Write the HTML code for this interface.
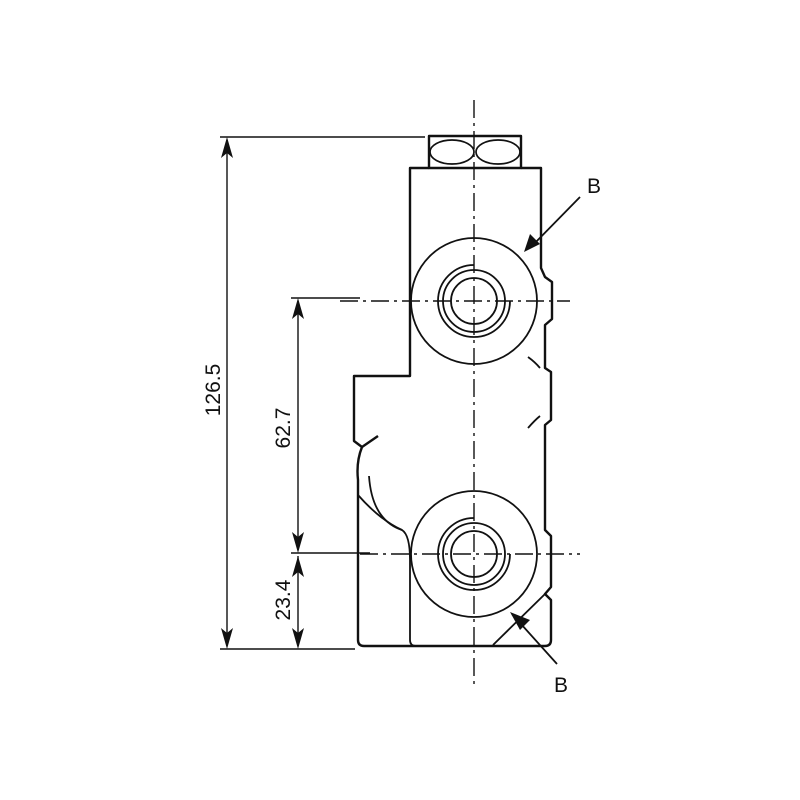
<!DOCTYPE html>
<html><head><style>body{margin:0;background:#fff}svg{display:block}</style></head><body>
<svg width="800" height="800" viewBox="0 0 800 800" xmlns="http://www.w3.org/2000/svg" font-family="Liberation Sans, sans-serif">
<g fill="none" stroke="#111" stroke-width="2.4" stroke-linejoin="round">
<!-- nut -->
<rect x="429" y="136" width="92" height="32"/>
<ellipse cx="452" cy="152" rx="22" ry="12" stroke-width="1.7"/>
<ellipse cx="498" cy="152" rx="22" ry="12" stroke-width="1.7"/>
<!-- body outline -->
<path d="M429 168 H410 V376 H354 V441 L362 447 Q356 462 358 480 V640 Q358 646 364 646 H545 Q551 646 551 640 V600 L545 594 L551 587 V536 L545 530 V425 L551 420 V372 L545 368 V325 L552 319 V282 L545 277 L541 268 V168 H521"/>
<path d="M362 447 L378 436" />
</g>
<g fill="none" stroke="#111" stroke-width="1.8">
<!-- top port -->
<circle cx="474" cy="301" r="63"/>
<circle cx="474" cy="301" r="23"/>
<circle cx="474" cy="301" r="31"/>
<path d="M474 265 A36 36 0 1 0 510 301"/>
<!-- bottom port -->
<circle cx="474" cy="554" r="63"/>
<circle cx="474" cy="554" r="23"/>
<circle cx="474" cy="554" r="31"/>
<path d="M474 518 A36 36 0 1 0 510 554"/>
<!-- misc body lines -->
<path d="M528 357 Q535 362 540 368"/>
<path d="M528 428 Q535 420 540 416"/>
<path d="M369 476 Q372 520 402 530 Q410 535 410 560 V640 Q410 646 416 646"/>
<path d="M358 495 Q380 520 402 530"/>
<path d="M493 645 L545 594"/>
<!-- arrow leaders -->
<path d="M580 197 L530 248"/>
<path d="M557 664 L512 614"/>
</g>
<polygon points="524,252 530,234 540,244" fill="#111"/>
<polygon points="510,612 530,620 520,630" fill="#111"/>
<!-- centerlines -->
<g stroke="#111" stroke-width="1.4" stroke-dasharray="18 5 3 5">
<line x1="474" y1="100" x2="474" y2="685"/>
<line x1="340" y1="301" x2="570" y2="301"/>
<line x1="360" y1="554" x2="580" y2="554"/>
</g>
<!-- dimensions -->
<g stroke="#111" stroke-width="1.4">
<line x1="220" y1="137" x2="425" y2="137"/>
<line x1="220" y1="649" x2="355" y2="649"/>
<line x1="291" y1="298" x2="360" y2="298"/>
<line x1="291" y1="553" x2="370" y2="553"/>
<line x1="227" y1="140" x2="227" y2="646"/>
<line x1="298" y1="301" x2="298" y2="550"/>
<line x1="298" y1="556" x2="298" y2="646"/>
</g>
<g fill="#111">
<polygon points="227,137 221,158 227,153 233,158"/>
<polygon points="227,649 221,628 227,633 233,628"/>
<polygon points="298,298 292,319 298,314 304,319"/>
<polygon points="298,553 292,532 298,537 304,532"/>
<polygon points="298,556 292,577 298,572 304,577"/>
<polygon points="298,649 292,628 298,633 304,628"/>
</g>
<g font-size="21" fill="#111" text-anchor="middle">
<text transform="translate(220,390) rotate(-90)">126.5</text>
<text transform="translate(290,428) rotate(-90)">62.7</text>
<text transform="translate(290,600) rotate(-90)">23.4</text>
<text x="594" y="193">B</text>
<text x="561" y="692">B</text>
</g>
</svg>
</body></html>
